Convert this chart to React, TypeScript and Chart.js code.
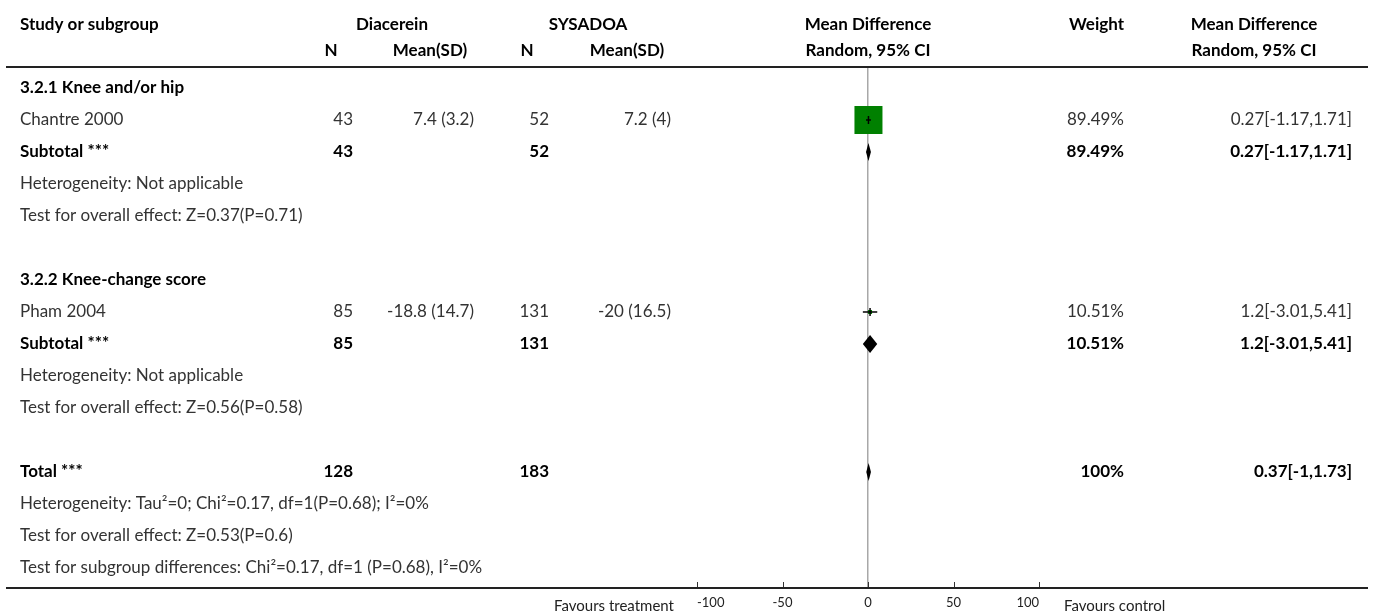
import React, { useEffect, useRef } from 'react';
import { Chart, registerables } from 'chart.js';
Chart.register(...registerables);

const FONT = 'Lato';
const FS = 17;

// ---- data ----
const studyNames = ['Chantre 2000', 'Pham 2004'];
const studyRows = [1, 7];
const treatN = ['43', '85'];
const treatMeanSD = ['7.4 (3.2)', '-18.8 (14.7)'];
const ctrlN = ['52', '131'];
const ctrlMeanSD = ['7.2 (4)', '-20 (16.5)'];
const studyMD = [0.27, 1.2];
const studyLo = [-1.17, -3.01];
const studyHi = [1.71, 5.41];
const studyWeight = [89.49, 10.51];
const studyWeightText = ['89.49%', '10.51%'];
const studyCIText = ['0.27[-1.17,1.71]', '1.2[-3.01,5.41]'];

const summaryLabels = ['Subtotal ***', 'Subtotal ***', 'Total ***'];
const summaryRows = [2, 8, 12];
const summaryTreatN = ['43', '85', '128'];
const summaryCtrlN = ['52', '131', '183'];
const summaryMD = [0.27, 1.2, 0.37];
const summaryLo = [-1.17, -3.01, -1];
const summaryHi = [1.71, 5.41, 1.73];
const summaryWeightText = ['89.49%', '10.51%', '100%'];
const summaryCIText = ['0.27[-1.17,1.71]', '1.2[-3.01,5.41]', '0.37[-1,1.73]'];

const groupHeaders = ['3.2.1 Knee and/or hip', '3.2.2 Knee-change score'];
const groupRows = [0, 6];

const noteTexts = [
  'Heterogeneity: Not applicable',
  'Test for overall effect: Z=0.37(P=0.71)',
  'Heterogeneity: Not applicable',
  'Test for overall effect: Z=0.56(P=0.58)',
  'Heterogeneity: Tau\u00b2=0; Chi\u00b2=0.17, df=1(P=0.68); I\u00b2=0%',
  'Test for overall effect: Z=0.53(P=0.6)',
  'Test for subgroup differences: Chi\u00b2=0.17, df=1 (P=0.68), I\u00b2=0%',
];
const noteRows = [3, 4, 9, 10, 13, 14, 15];

const xTickValues = [-100, -50, 0, 50, 100];
const xMin = -100;
const xMax = 100;
const favoursLeft = 'Favours treatment';
const favoursRight = 'Favours control';

// ---- layout (pixels) ----
const W = 1373;
const H = 615;
const COL = {
  studyL: 20,
  tnR: 353,
  tmR: 474,
  cnR: 549,
  cmR: 671,
  wR: 1124,
  ciR: 1352,
};

const tablePlugin = {
  id: 'forestTable',
  afterDraw(chart: any) {
    const ctx = chart.ctx as CanvasRenderingContext2D;
    const y = chart.scales.y;
    const x = chart.scales.x;
    const area = chart.chartArea;
    const txt = (s: string, px: number, py: number, align: CanvasTextAlign, bold: boolean, size = FS, color?: string) => {
      ctx.font = `${bold ? 'bold ' : ''}${size}px ${FONT}`;
      ctx.fillStyle = color || (bold ? '#000' : '#333');
      ctx.textAlign = align;
      ctx.textBaseline = 'middle';
      ctx.fillText(s, px, py);
    };
    ctx.save();
    // headers
    txt('Study or subgroup', COL.studyL, 25, 'left', true);
    txt('Diacerein', 392, 25, 'center', true);
    txt('SYSADOA', 588, 25, 'center', true);
    txt('Mean Difference', 868, 25, 'center', true);
    txt('Weight', COL.wR, 25, 'right', true);
    txt('Mean Difference', 1254, 25, 'center', true);
    txt('N', 331, 51, 'center', true);
    txt('Mean(SD)', 430, 51, 'center', true);
    txt('N', 527, 51, 'center', true);
    txt('Mean(SD)', 627, 51, 'center', true);
    txt('Random, 95% CI', 868, 51, 'center', true);
    txt('Random, 95% CI', 1254, 51, 'center', true);

    // header line and bottom line
    ctx.strokeStyle = '#222';
    ctx.lineWidth = 2;
    ctx.beginPath();
    ctx.moveTo(6, 67);
    ctx.lineTo(1368, 67);
    ctx.stroke();
    ctx.beginPath();
    ctx.moveTo(6, area.bottom + 1);
    ctx.lineTo(1368, area.bottom + 1);
    ctx.stroke();

    // tick marks (inward)
    ctx.lineWidth = 1;
    ctx.strokeStyle = '#333';
    xTickValues.forEach((v) => {
      const px = Math.round(x.getPixelForValue(v)) + 0.5;
      ctx.beginPath();
      ctx.moveTo(px, area.bottom - 5);
      ctx.lineTo(px, area.bottom);
      ctx.stroke();
    });

    // favours labels
    txt(favoursLeft, x.getPixelForValue(xMin) - 23, 606, 'right', false, 15, '#222');
    txt(favoursRight, x.getPixelForValue(xMax) + 25, 606, 'left', false, 15, '#222');

    groupHeaders.forEach((s, i) => txt(s, COL.studyL, y.getPixelForValue(groupRows[i]), 'left', true));
    studyNames.forEach((s, i) => {
      const py = y.getPixelForValue(studyRows[i]);
      txt(s, COL.studyL, py, 'left', false);
      txt(treatN[i], COL.tnR, py, 'right', false);
      txt(treatMeanSD[i], COL.tmR, py, 'right', false);
      txt(ctrlN[i], COL.cnR, py, 'right', false);
      txt(ctrlMeanSD[i], COL.cmR, py, 'right', false);
      txt(studyWeightText[i], COL.wR, py, 'right', false);
      txt(studyCIText[i], COL.ciR, py, 'right', false);
    });
    summaryLabels.forEach((s, i) => {
      const py = y.getPixelForValue(summaryRows[i]);
      txt(s, COL.studyL, py, 'left', true);
      txt(summaryTreatN[i], COL.tnR, py, 'right', true);
      txt(summaryCtrlN[i], COL.cnR, py, 'right', true);
      txt(summaryWeightText[i], COL.wR, py, 'right', true);
      txt(summaryCIText[i], COL.ciR, py, 'right', true);
    });
    noteTexts.forEach((s, i) => txt(s, COL.studyL, y.getPixelForValue(noteRows[i]), 'left', false));
    ctx.restore();
  },
  afterDatasetsDraw(chart: any) {
    const ctx = chart.ctx as CanvasRenderingContext2D;
    const y = chart.scales.y;
    const x = chart.scales.x;
    ctx.save();
    ctx.fillStyle = '#000';
    summaryMD.forEach((md, i) => {
      const py = y.getPixelForValue(summaryRows[i]);
      const xl = x.getPixelForValue(summaryLo[i]);
      const xm = x.getPixelForValue(md);
      const xh = x.getPixelForValue(summaryHi[i]);
      ctx.beginPath();
      ctx.moveTo(xl, py);
      ctx.lineTo(xm, py - 9);
      ctx.lineTo(xh, py);
      ctx.lineTo(xm, py + 9);
      ctx.closePath();
      ctx.fill();
    });
    ctx.restore();
  },
};

export default function App() {
  const ref = useRef<HTMLCanvasElement | null>(null);
  useEffect(() => {
    if (!ref.current) return;
    const ciSets = studyMD.map((_, i) => ({
      data: [
        { x: studyLo[i], y: studyRows[i] },
        { x: studyHi[i], y: studyRows[i] },
      ],
      showLine: true,
      borderColor: '#000',
      borderWidth: 1.5,
      pointRadius: 0,
      order: 0,
    }));
    const chart = new Chart(ref.current, {
      type: 'scatter',
      data: {
        datasets: [
          ...ciSets,
          {
            data: studyMD.map((v, i) => ({ x: v, y: studyRows[i] })),
            pointStyle: 'line',
            rotation: 90,
            pointRadius: 4,
            borderColor: '#000',
            borderWidth: 1.5,
            order: 0,
          } as any,
          {
            data: studyMD.map((v, i) => ({ x: v, y: studyRows[i] })),
            pointStyle: 'rect',
            pointRadius: studyWeight.map((w) => Math.max(4, w * 0.313) / Math.SQRT2),
            backgroundColor: '#008000',
            borderWidth: 0,
            order: 1,
          } as any,
        ],
      },
      options: {
        responsive: false,
        animation: false,
        events: [],
        layout: { padding: { left: 697, right: W - 1039, top: 67, bottom: 0 } },
        plugins: { legend: { display: false }, tooltip: { enabled: false } },
        scales: {
          x: {
            type: 'linear',
            min: xMin,
            max: xMax,
            afterBuildTicks: (scale: any) => {
              scale.ticks = xTickValues.map((v) => ({ value: v }));
            },
            afterFit: (scale: any) => {
              scale.height = H - 587;
            },
            ticks: {
              padding: 8,
              align: 'inner',
              color: '#222',
              font: { family: FONT, size: 13 },
            },
            grid: {
              drawTicks: false,
              lineWidth: 1.5,
              color: (c: any) => (c.tick && c.tick.value === 0 ? '#a8a8a8' : 'rgba(0,0,0,0)'),
            },
            border: { display: false },
          },
          y: {
            type: 'linear',
            reverse: true,
            min: -0.656,
            max: 15.594,
            display: false,
          },
        },
      },
      plugins: [tablePlugin],
    } as any);
    return () => chart.destroy();
  }, []);
  return (
    <div style={{ position: 'absolute', left: 0, top: 0, width: W, height: H, background: '#fff' }}>
      <canvas ref={ref} width={W} height={H} style={{ width: W, height: H, display: 'block' }} />
    </div>
  );
}
